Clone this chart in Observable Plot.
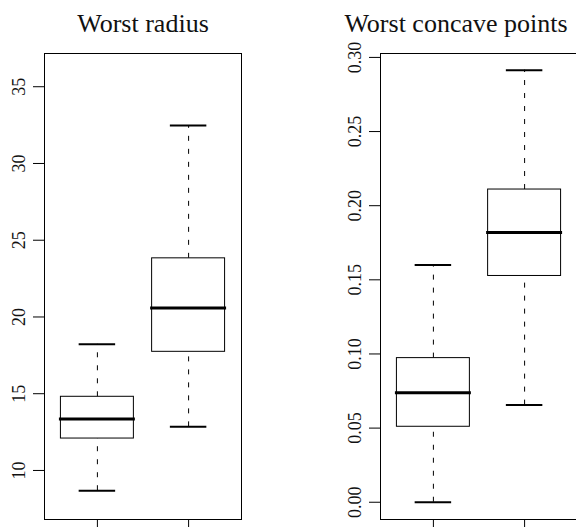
<!DOCTYPE html>
<html>
<head>
<meta charset="utf-8">
<script src="https://cdn.jsdelivr.net/npm/d3@7"></script>
<script src="https://cdn.jsdelivr.net/npm/@observablehq/plot@0.6"></script>
<style>
  html, body { margin: 0; padding: 0; background: white; overflow: hidden; }
  #wrap { position: relative; width: 576px; height: 527px; overflow: hidden; background: white; }
  .panel { position: absolute; top: 0; }
</style>
</head>
<body>
<div id="wrap">
  <div class="panel" id="left" style="left:0px"></div>
  <div class="panel" id="right" style="left:288px"></div>
</div>
<script>
// ---- data ----
const groups = ["B", "M"];

// Worst radius (box statistics per group)
const radiusLowWhisker  = [8.68, 12.84];
const radiusQ1          = [12.08, 17.73];
const radiusMedian      = [13.35, 20.59];
const radiusQ3          = [14.80, 23.82];
const radiusHighWhisker = [18.22, 32.47];
const radiusDataRange   = [7.93, 36.04];   // full data range (incl. outliers)
const radiusTicks       = [10, 15, 20, 25, 30, 35];

// Worst concave points
const concaveLowWhisker  = [0.000, 0.0655];
const concaveQ1          = [0.0509, 0.1526];
const concaveMedian      = [0.0739, 0.1819];
const concaveQ3          = [0.0972, 0.2109];
const concaveHighWhisker = [0.1600, 0.2914];
const concaveDataRange   = [0.000, 0.291];
const concaveTicks       = [0.00, 0.05, 0.10, 0.15, 0.20, 0.25, 0.30];

const titles = ["Worst radius", "Worst concave points"];

// ---- helpers ----
const FONT = "'Liberation Serif', 'Times New Roman', serif";

function table(lo, q1, med, q3, hi) {
  return groups.map((g, i) => ({g, pos: i + 1, lo: lo[i], q1: q1[i], med: med[i], q3: q3[i], hi: hi[i]}));
}
function extend(r) {
  const d = (r[1] - r[0]) * 0.04;
  return [r[0] - d, r[1] + d];
}

function boxPanel({data, yDomain, ticks, fmt, title, width, marginLeft, marginRight, titleDx}) {
  return Plot.plot({
    width,
    height: 540,
    marginLeft,
    marginRight,
    marginTop: 53,
    marginBottom: 21,
    style: {background: "white", maxWidth: "none", overflow: "visible", fontFamily: FONT},
    x: {domain: [0.42, groups.length + 0.58], label: null},
    y: {domain: yDomain, label: null},
    marks: [
      // whiskers (dashed)
      Plot.ruleX(data, {x: "pos", y1: "q3", y2: "hi", stroke: "#000", strokeWidth: 1, strokeDasharray: "5,8"}),
      Plot.ruleX(data, {x: "pos", y1: "lo", y2: "q1", stroke: "#000", strokeWidth: 1, strokeDasharray: "5,8"}),
      // staples
      Plot.ruleY(data, {y: "hi", x1: d => d.pos - 0.2, x2: d => d.pos + 0.2, stroke: "#000", strokeWidth: 2}),
      Plot.ruleY(data, {y: "lo", x1: d => d.pos - 0.2, x2: d => d.pos + 0.2, stroke: "#000", strokeWidth: 2}),
      // boxes
      Plot.rect(data, {x1: d => d.pos - 0.4, x2: d => d.pos + 0.4, y1: "q1", y2: "q3", fill: "white", stroke: "#000", strokeWidth: 1}),
      // medians
      Plot.ruleY(data, {y: "med", x1: d => d.pos - 0.4, x2: d => d.pos + 0.4, stroke: "#000", strokeWidth: 3, strokeLinecap: "square"}),
      Plot.frame({stroke: "#000", strokeWidth: 1}),
      // axes ticks
      Plot.axisY({ticks, tickSize: 11, tickFormat: () => "", stroke: "#000", label: null}),
      Plot.axisX({ticks: data.map(d => d.pos), tickSize: 11, tickFormat: () => "", stroke: "#000", label: null}),
      // rotated tick labels
      Plot.text(ticks, {y: d => d, text: d => fmt(d), frameAnchor: "left", dx: -19.5, rotate: -90,
        lineAnchor: "bottom", textAnchor: "middle", fontSize: 18, fontFamily: FONT, fill: "#111"}),
      // title
      Plot.text([title], {text: d => d, frameAnchor: "top", dx: titleDx, dy: -21.3, lineAnchor: "bottom",
        textAnchor: "middle", fontSize: 26, fontFamily: FONT, fill: "#111"})
    ]
  });
}

document.getElementById("left").appendChild(boxPanel({
  data: table(radiusLowWhisker, radiusQ1, radiusMedian, radiusQ3, radiusHighWhisker),
  yDomain: extend(radiusDataRange),
  ticks: radiusTicks,
  fmt: d3.format("d"),
  title: titles[0],
  width: 288, marginLeft: 44, marginRight: 47, titleDx: 0
}));

document.getElementById("right").appendChild(boxPanel({
  data: table(concaveLowWhisker, concaveQ1, concaveMedian, concaveQ3, concaveHighWhisker),
  yDomain: extend(concaveDataRange),
  ticks: concaveTicks,
  fmt: d3.format(".2f"),
  title: titles[1],
  width: 300, marginLeft: 92, marginRight: 11, titleDx: -23
}));
</script>
</body>
</html>
